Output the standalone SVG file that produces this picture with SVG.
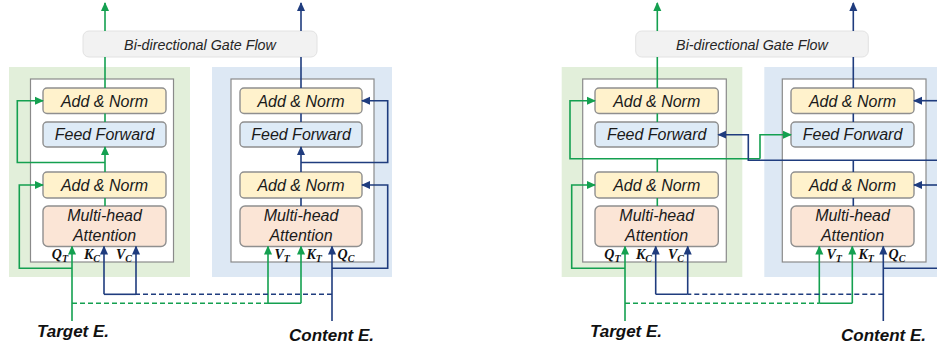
<svg xmlns="http://www.w3.org/2000/svg" width="937" height="354" viewBox="0 0 937 354">
<style>
.gpanel{fill:#e2efda}
.bpanel{fill:#dde8f4}
.inner{fill:#ffffff;stroke:#8a8a8a;stroke-width:1.2}
.gate{fill:#f2f2f2;stroke:#e2e2e2;stroke-width:1}
.an{fill:#fff2cc;stroke:#8f8f8f;stroke-width:1.4}
.ff{fill:#deebf7;stroke:#8f8f8f;stroke-width:1.4}
.mha{fill:#fbe5d6;stroke:#8f8f8f;stroke-width:1.4}
.nt{font-family:"Liberation Sans",Arial,sans-serif;font-style:italic;font-size:16px;fill:#1a1a1a;text-anchor:middle}
.gt{font-family:"Liberation Sans",Arial,sans-serif;font-style:italic;font-size:14.3px;fill:#262626;text-anchor:middle}
.lb{font-family:"Liberation Serif","Times New Roman",serif;font-style:italic;font-weight:bold;font-size:14px;fill:#111}
.sub{font-size:10px}
.io{font-family:"Liberation Sans",Arial,sans-serif;font-style:italic;font-weight:bold;font-size:17px;fill:#111;text-anchor:middle}
.g{fill:none;stroke:#14a050;stroke-width:1.6}
.b{fill:none;stroke:#1f3c7e;stroke-width:1.6}
.d{stroke-dasharray:5,3}
.ga{marker-end:url(#ag)}
.ba{marker-end:url(#ab)}
</style>
<defs>
<marker id="ag" viewBox="0 0 10 10" refX="9" refY="5" markerWidth="9" markerHeight="9" markerUnits="userSpaceOnUse" orient="auto">
<path d="M0,0.5 L10,5 L0,9.5 Z" fill="#14a050"/>
</marker>
<marker id="ab" viewBox="0 0 10 10" refX="9" refY="5" markerWidth="9" markerHeight="9" markerUnits="userSpaceOnUse" orient="auto">
<path d="M0,0.5 L10,5 L0,9.5 Z" fill="#1f3c7e"/>
</marker>
</defs>

<!-- LEFT DIAGRAM -->
<g id="left-target-panel"><rect class="gpanel" x="9" y="67" width="181" height="210"/><rect class="inner" x="30.5" y="79" width="143" height="183"/></g>
<g id="left-content-panel"><rect class="bpanel" x="212" y="67" width="180" height="210"/><rect class="inner" x="231" y="79" width="143" height="183"/></g>
<g id="left-gate"><rect class="gate" x="83" y="31" width="234" height="26" rx="6"/><text class="gt" x="200" y="49.5">Bi-directional Gate Flow</text></g>
<g id="left-t-addnorm2"><rect class="an" x="43" y="88" width="123" height="25.5" rx="4"/><text class="nt" x="104.5" y="106.5">Add &amp; Norm</text></g>
<g id="left-t-ff"><rect class="ff" x="43" y="122" width="123" height="25" rx="4"/><text class="nt" x="104.5" y="140.3">Feed Forward</text></g>
<g id="left-t-addnorm1"><rect class="an" x="43" y="172" width="123" height="26" rx="4"/><text class="nt" x="104.5" y="190.8">Add &amp; Norm</text></g>
<g id="left-t-mha"><rect class="mha" x="43" y="206" width="123" height="40.5" rx="5"/><text class="nt" x="104.5" y="221.3">Multi-head</text><text class="nt" x="104.5" y="241.3">Attention</text></g>
<g id="left-c-addnorm2"><rect class="an" x="240" y="88" width="122" height="25.5" rx="4"/><text class="nt" x="301" y="106.5">Add &amp; Norm</text></g>
<g id="left-c-ff"><rect class="ff" x="240" y="122" width="122" height="25" rx="4"/><text class="nt" x="301" y="140.3">Feed Forward</text></g>
<g id="left-c-addnorm1"><rect class="an" x="240" y="172" width="122" height="26" rx="4"/><text class="nt" x="301" y="190.8">Add &amp; Norm</text></g>
<g id="left-c-mha"><rect class="mha" x="240" y="206" width="122" height="40.5" rx="5"/><text class="nt" x="301" y="221.3">Multi-head</text><text class="nt" x="301" y="241.3">Attention</text></g>
<g id="left-labels">
<text class="lb" x="68" y="259" text-anchor="end">Q<tspan class="sub" dy="3">T</tspan></text>
<text class="lb" x="100" y="259" text-anchor="end">K<tspan class="sub" dy="3">C</tspan></text>
<text class="lb" x="132" y="259" text-anchor="end">V<tspan class="sub" dy="3">C</tspan></text>
<text class="lb" x="274.5" y="259">V<tspan class="sub" dy="3">T</tspan></text>
<text class="lb" x="306.5" y="259">K<tspan class="sub" dy="3">T</tspan></text>
<text class="lb" x="337.5" y="259">Q<tspan class="sub" dy="3">C</tspan></text>
</g>
<g id="left-target-e"><text class="io" x="73" y="337">Target E.</text></g>
<g id="left-content-e"><text class="io" x="331.5" y="341">Content E.</text></g>

<!-- RIGHT DIAGRAM -->
<g id="right-target-panel"><rect class="gpanel" x="561.7" y="67" width="180.6" height="210"/><rect class="inner" x="582.7" y="79" width="143.6" height="183"/></g>
<g id="right-content-panel"><rect class="bpanel" x="764.3" y="67" width="180" height="210"/><rect class="inner" x="782.3" y="79" width="143.7" height="183"/></g>
<g id="right-gate"><rect class="gate" x="635.7" y="31" width="232.6" height="26" rx="6"/><text class="gt" x="752" y="49.5">Bi-directional Gate Flow</text></g>
<g id="right-t-addnorm2"><rect class="an" x="595" y="88" width="123.3" height="25.5" rx="4"/><text class="nt" x="656.7" y="106.5">Add &amp; Norm</text></g>
<g id="right-t-ff"><rect class="ff" x="595" y="122" width="123.3" height="25" rx="4"/><text class="nt" x="656.7" y="140.3">Feed Forward</text></g>
<g id="right-t-addnorm1"><rect class="an" x="595" y="172" width="123.3" height="26" rx="4"/><text class="nt" x="656.7" y="190.8">Add &amp; Norm</text></g>
<g id="right-t-mha"><rect class="mha" x="595" y="206" width="123.3" height="40.5" rx="5"/><text class="nt" x="656.7" y="221.3">Multi-head</text><text class="nt" x="656.7" y="241.3">Attention</text></g>
<g id="right-c-addnorm2"><rect class="an" x="791" y="88" width="123" height="25.5" rx="4"/><text class="nt" x="852.5" y="106.5">Add &amp; Norm</text></g>
<g id="right-c-ff"><rect class="ff" x="791" y="122" width="123" height="25" rx="4"/><text class="nt" x="852.5" y="140.3">Feed Forward</text></g>
<g id="right-c-addnorm1"><rect class="an" x="791" y="172" width="123" height="26" rx="4"/><text class="nt" x="852.5" y="190.8">Add &amp; Norm</text></g>
<g id="right-c-mha"><rect class="mha" x="791" y="206" width="123" height="40.5" rx="5"/><text class="nt" x="852.5" y="221.3">Multi-head</text><text class="nt" x="852.5" y="241.3">Attention</text></g>
<g id="right-labels">
<text class="lb" x="620.5" y="259" text-anchor="end">Q<tspan class="sub" dy="3">T</tspan></text>
<text class="lb" x="652" y="259" text-anchor="end">K<tspan class="sub" dy="3">C</tspan></text>
<text class="lb" x="684" y="259" text-anchor="end">V<tspan class="sub" dy="3">C</tspan></text>
<text class="lb" x="826.5" y="259">V<tspan class="sub" dy="3">T</tspan></text>
<text class="lb" x="858.5" y="259">K<tspan class="sub" dy="3">T</tspan></text>
<text class="lb" x="888.5" y="259">Q<tspan class="sub" dy="3">C</tspan></text>
</g>
<g id="right-target-e"><text class="io" x="626" y="337">Target E.</text></g>
<g id="right-content-e"><text class="io" x="883.5" y="341">Content E.</text></g>

<g id="connectors">
<!-- left green -->
<path class="g ga" d="M105,31 L105,3"/>
<path class="g" d="M105,57 L105,88"/>
<path class="g" d="M105,113.5 L105,122"/>
<path class="g ga" d="M105,172 L105,147"/>
<path class="g ga" d="M105,162.5 L17.3,162.5 L17.3,100.7 L43,100.7"/>
<path class="g" d="M105,198 L105,206"/>
<path class="g ga" d="M72,321 L72,246.5"/>
<path class="g ga" d="M72,268.3 L19.3,268.3 L19.3,185 L43,185"/>
<path class="g d" d="M72,303.3 L268,303.3"/>
<path class="g" d="M268,303.3 L301,303.3"/>
<path class="g ga" d="M268,303.3 L268,246.5"/>
<path class="g ga" d="M301,303.3 L301,246.5"/>
<!-- left blue -->
<path class="b ba" d="M301,31 L301,3"/>
<path class="b" d="M301,57 L301,88"/>
<path class="b" d="M301,113.5 L301,122"/>
<path class="b ba" d="M301,172 L301,147"/>
<path class="b ba" d="M301,162.5 L387.7,162.5 L387.7,100.7 L362,100.7"/>
<path class="b" d="M301,198 L301,206"/>
<path class="b ba" d="M332,321 L332,246.5"/>
<path class="b ba" d="M332,268.3 L387.7,268.3 L387.7,185 L362,185"/>
<path class="b d" d="M332,294.3 L136,294.3"/>
<path class="b" d="M136,294.3 L104,294.3"/>
<path class="b ba" d="M104,294.3 L104,246.5"/>
<path class="b ba" d="M136,294.3 L136,246.5"/>
<!-- right green -->
<path class="g ga" d="M657.3,31 L657.3,3"/>
<path class="g" d="M657.3,57 L657.3,88"/>
<path class="g" d="M657.3,113.5 L657.3,122"/>
<path class="g" d="M657.3,172 L657.3,158.7"/>
<path class="g ga" d="M760,158.7 L570,158.7 L570,100.7 L595,100.7"/>
<path class="g ga" d="M760,158.7 L760,134.7 L791,134.7"/>
<path class="g" d="M657.3,198 L657.3,206"/>
<path class="g ga" d="M625,321 L625,246.5"/>
<path class="g ga" d="M625,268.3 L571.7,268.3 L571.7,185 L595,185"/>
<path class="g d" d="M625,303.3 L819.3,303.3"/>
<path class="g" d="M819.3,303.3 L852.3,303.3"/>
<path class="g ga" d="M819.3,303.3 L819.3,246.5"/>
<path class="g ga" d="M852.3,303.3 L852.3,246.5"/>
<!-- right blue -->
<path class="b ba" d="M853.3,31 L853.3,3"/>
<path class="b" d="M853.3,57 L853.3,88"/>
<path class="b" d="M853.3,113.5 L853.3,122"/>
<path class="b" d="M853.3,172 L853.3,160.3"/>
<path class="b ba" d="M940,160.3 L748.3,160.3 L748.3,134.7 L718.3,134.7"/>
<path class="b ba" d="M940,100.7 L914,100.7"/>
<path class="b ba" d="M940,185 L914,185"/>
<path class="b" d="M853.3,198 L853.3,206"/>
<path class="b ba" d="M883.3,321 L883.3,246.5"/>
<path class="b" d="M883.3,268.3 L940,268.3"/>
<path class="b d" d="M883.3,294.3 L687.7,294.3"/>
<path class="b" d="M687.7,294.3 L655.7,294.3"/>
<path class="b ba" d="M655.7,294.3 L655.7,246.5"/>
<path class="b ba" d="M687.7,294.3 L687.7,246.5"/>
</g>
</svg>
